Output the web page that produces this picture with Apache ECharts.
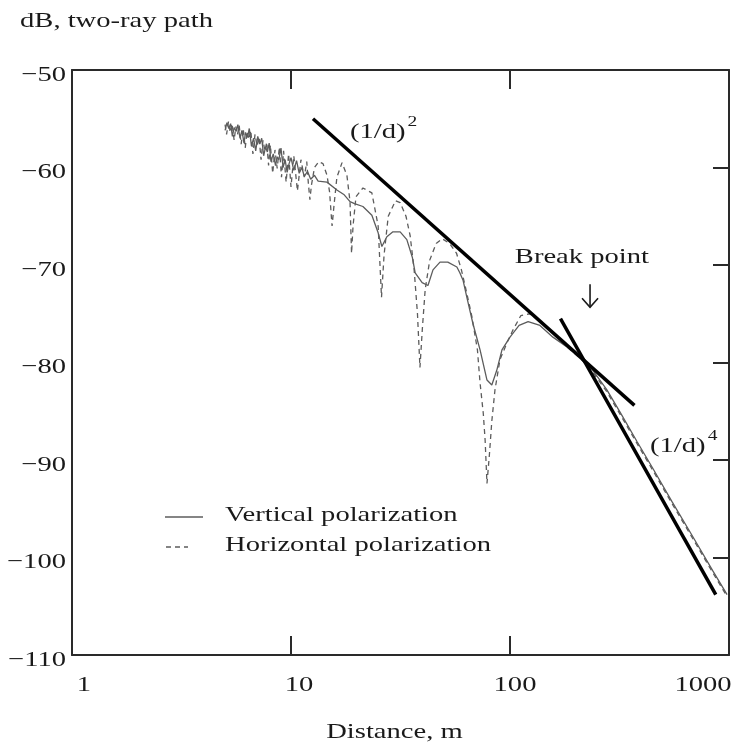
<!DOCTYPE html>
<html>
<head>
<meta charset="utf-8">
<script src="https://cdn.jsdelivr.net/npm/echarts@6/dist/echarts.min.js"></script>
<style>
  html, body { margin: 0; padding: 0; background: #fff; }
  #chart { width: 740px; height: 748px; }
</style>
</head>
<body>
<div id="chart"></div>
<script>
// Two-ray path loss versus distance (log scale), with 1/d^2 and 1/d^4 asymptotes.

const xTicks = [1, 10, 100, 1000];
const yTicks = [-110, -100, -90, -80, -70, -60, -50];

// [distance m, dB]
const vertical = [
  [5.0,-56.2],[5.1,-55.4],[5.2,-56.0],[5.3,-55.5],[5.4,-56.8],[5.5,-55.9],[5.62,-56.3],[5.72,-55.6],
  [5.85,-57.0],[5.97,-56.2],[6.1,-57.5],[6.2,-56.4],[6.33,-56.9],[6.45,-56.0],[6.6,-57.8],[6.75,-57.0],
  [6.9,-58.3],[7.05,-56.8],[7.2,-57.6],[7.35,-57.0],[7.5,-58.8],[7.65,-57.9],[7.8,-58.4],[7.95,-57.5],
  [8.1,-59.4],[8.3,-58.6],[8.5,-59.8],[8.65,-58.9],[8.8,-59.2],[9.0,-58.0],[9.2,-60.0],[9.4,-59.2],
  [9.6,-60.5],[9.8,-59.6],[10.0,-59.0],[10.3,-60.3],[10.6,-59.3],[10.9,-60.6],[11.2,-60.0],[11.5,-60.9],
  [11.9,-60.4],[12.3,-61.2],[12.8,-60.8],[13.3,-61.4],[14.6,-61.5],[16.2,-62.3],[17.5,-62.8],[18.6,-63.5],
  [19.5,-63.7],[21.3,-64.0],[23.4,-64.9],[25.0,-66.7],[26.0,-68.1],[27.4,-67.1],[29.2,-66.6],[31.5,-66.6],
  [33.8,-67.4],[35.8,-69.2],[36.9,-70.8],[39.7,-71.8],[42.2,-72.1],[44.5,-70.5],[47.9,-69.7],[52.0,-69.7],
  [57.2,-70.2],[59.0,-70.8],[61.1,-71.6],[63.5,-73.3],[67.7,-76.0],[73.0,-78.7],[78.5,-81.8],[82.6,-82.3],
  [87.0,-80.8],[91.9,-78.7],[100,-77.4],[110,-76.2],[121,-75.8],[137,-76.2],[157,-77.4],[182,-78.4],
  [210,-79.4],[239,-80.8],[277,-82.8],[320,-85.2],[380,-88.1],[450,-90.9],[550,-94.3],[685,-97.9],
  [845,-101.4],[980,-103.8]
];

const horizontal = [
  [5.0,-55.6],[5.08,-56.6],[5.18,-55.3],[5.28,-56.4],[5.38,-55.5],[5.5,-57.2],[5.6,-55.8],[5.7,-56.6],
  [5.8,-55.7],[5.92,-57.6],[6.05,-56.0],[6.18,-58.0],[6.3,-56.3],[6.42,-57.1],[6.55,-56.2],[6.7,-58.6],
  [6.85,-56.6],[7.0,-57.8],[7.15,-56.9],[7.3,-59.2],[7.45,-57.2],[7.6,-58.3],[7.75,-57.4],[7.9,-59.8],
  [8.05,-57.7],[8.25,-60.6],[8.45,-58.2],[8.65,-60.1],[8.85,-57.9],[9.05,-61.0],[9.25,-58.3],[9.5,-61.5],
  [9.75,-58.6],[10.0,-62.0],[10.3,-58.8],[10.7,-62.4],[11.1,-59.2],[11.5,-61.0],[11.8,-59.4],[12.0,-61.6],
  [12.2,-63.3],[12.4,-61.8],[12.8,-60.0],[13.4,-59.4],[14.0,-59.6],[14.6,-60.8],[15.0,-62.5],[15.4,-66.0],
  [15.7,-64.0],[16.2,-61.0],[17.1,-59.5],[18.0,-60.8],[18.6,-63.5],[18.9,-68.8],[19.2,-66.0],[19.8,-63.0],
  [21.3,-62.1],[23.4,-62.6],[25.0,-66.0],[25.9,-73.3],[26.6,-69.0],[27.8,-65.0],[30.0,-63.4],[31.5,-63.6],
  [33.5,-65.0],[35.0,-67.0],[36.5,-70.5],[37.8,-75.0],[38.8,-80.5],[39.8,-76.5],[41.0,-72.5],[43.0,-69.5],
  [46.0,-67.8],[49.0,-67.3],[53.0,-67.8],[57.0,-68.8],[60.0,-70.5],[63.5,-72.9],[67.0,-75.3],[71.0,-78.7],
  [73.0,-82.1],[75.5,-85.2],[77.0,-88.0],[78.5,-92.4],[80.5,-89.5],[82.6,-86.0],[85.4,-82.8],[90.0,-79.7],
  [96.8,-78.0],[103,-76.7],[112,-75.2],[123,-75.0],[137,-75.7],[157,-76.9],[182,-78.4],[210,-79.6],
  [239,-81.0],[277,-83.0],[320,-85.4],[380,-88.3],[450,-91.1],[550,-94.5],[685,-98.1],[845,-101.6],
  [980,-104.0]
];

// Asymptotes: 20 dB/decade and 40 dB/decade
const slope2 = [[12.6,-55.0],[370,-84.4]];
const slope4 = [[170,-75.5],[870,-103.8]];

// Annotations anchored in data space: [distance, dB, text, superscript]
const notes = [
  [18.6, -56.4, '(1/d)', '2'],
  [436, -88.6, '(1/d)', '4']
];
const breakLabel = [213, -69.2, 'Break point'];
const breakArrow = [232, -73.2];

const SERIF = '"Liberation Serif", "Times New Roman", serif';
const INK = '#1a1a1a';
const SX = 1.3;          // horizontal stretch of the lettering
const FS = 22;           // font size in px

const chart = echarts.init(document.getElementById('chart'), null, { renderer: 'canvas' });

const axisLineStyle = { color: '#2a2a2a', width: 2 };

chart.setOption({
  animation: false,
  backgroundColor: '#fff',
  grid: { left: 72, right: 11, top: 70, bottom: 93 },
  xAxis: [
    {
      type: 'log', logBase: 10, min: 1, max: 1000, position: 'bottom',
      axisLine: { lineStyle: axisLineStyle },
      axisTick: { inside: true, length: 19, lineStyle: axisLineStyle },
      minorTick: { show: false }, splitLine: { show: false },
      axisLabel: { show: false }
    },
    {
      type: 'log', logBase: 10, min: 1, max: 1000, position: 'top',
      axisLine: { lineStyle: axisLineStyle },
      axisTick: { inside: true, length: 19, lineStyle: axisLineStyle },
      minorTick: { show: false }, splitLine: { show: false },
      axisLabel: { show: false }
    }
  ],
  yAxis: [
    {
      type: 'value', min: -110, max: -50, interval: 10, position: 'left',
      axisLine: { show: true, lineStyle: axisLineStyle },
      axisTick: { show: false }, splitLine: { show: false },
      axisLabel: { show: false }
    },
    {
      type: 'value', min: -110, max: -50, interval: 10, position: 'right',
      axisLine: { show: true, lineStyle: axisLineStyle },
      axisTick: { show: true, inside: true, length: 16, lineStyle: axisLineStyle },
      splitLine: { show: false },
      axisLabel: { show: false }
    }
  ],
  series: [
    {
      name: 'Vertical polarization', type: 'line', data: vertical,
      symbol: 'none', lineStyle: { color: '#5c5c5c', width: 1.3 }
    },
    {
      name: 'Horizontal polarization', type: 'line', data: horizontal,
      symbol: 'none', lineStyle: { color: '#5c5c5c', width: 1.3, type: [5, 4] }
    },
    {
      name: '(1/d)^2', type: 'line', data: slope2, symbol: 'none',
      lineStyle: { color: '#000', width: 3.5 }
    },
    {
      name: '(1/d)^4', type: 'line', data: slope4, symbol: 'none',
      lineStyle: { color: '#000', width: 3.5 }
    }
  ]
});

// ---- lettering: stretched serif text placed through the axis scales ----
const toPx = (x, y) => chart.convertToPixel({ gridIndex: 0 }, [x, y]);
const measure = (() => {
  const c = document.createElement('canvas').getContext('2d');
  return (t, size) => { c.font = size + 'px ' + SERIF; return c.measureText(t).width * SX; };
})();

function label(x, y, text, align, size) {
  return {
    type: 'text', x: x, y: y, scaleX: SX, silent: true,
    style: {
      text: text, font: (size || FS) + 'px ' + SERIF, fill: INK,
      align: align || 'left', verticalAlign: 'middle'
    }
  };
}

const g = [];

// y tick labels
yTicks.forEach(v => {
  const p = toPx(1, v);
  g.push(label(p[0] - 6, p[1] + 5, (v < 0 ? '\u2212' : '') + Math.abs(v), 'right'));
});

// x tick labels (shifted slightly as in the printed figure)
const xLabelShift = { 1: 12, 10: 8, 100: 5, 1000: -26 };
xTicks.forEach(v => {
  const p = toPx(v, -110);
  g.push(label(p[0] + xLabelShift[v], p[1] + 30, String(v), 'center'));
});

// axis titles
const bl = toPx(1, -110), br = toPx(1000, -110);
g.push(label((bl[0] + br[0]) / 2 - 6, bl[1] + 77, 'Distance, m', 'center'));
g.push(label(20, 21, 'dB, two-ray path', 'left'));

// slope annotations with superscripts
notes.forEach(n => {
  const p = toPx(n[0], n[1]);
  g.push(label(p[0], p[1], n[2], 'left'));
  g.push(label(p[0] + measure(n[2], FS) + 2, p[1] - 10, n[3], 'left', 15));
});

// break point label and arrow
const bp = toPx(breakLabel[0], breakLabel[1]);
g.push(label(bp[0], bp[1], breakLabel[2], 'center'));
const ap = toPx(breakArrow[0], breakArrow[1]);
g.push({
  type: 'polyline', silent: true,
  shape: { points: [[ap[0], ap[1] - 12], [ap[0], ap[1] + 11]] },
  style: { stroke: INK, lineWidth: 1.6, fill: null }
});
g.push({
  type: 'polyline', silent: true,
  shape: { points: [[ap[0] - 8, ap[1] + 2], [ap[0], ap[1] + 11], [ap[0] + 8, ap[1] + 2]] },
  style: { stroke: INK, lineWidth: 1.6, fill: null }
});

// legend
const leg = [
  { text: 'Vertical polarization', y: 515, x0: 165, x1: 203, dash: null },
  { text: 'Horizontal polarization', y: 545, x0: 166, x1: 188, dash: [5, 4] }
];
leg.forEach(l => {
  g.push({
    type: 'line', silent: true,
    shape: { x1: l.x0, y1: l.y + 2, x2: l.x1, y2: l.y + 2 },
    style: { stroke: '#5c5c5c', lineWidth: 1.3, lineDash: l.dash }
  });
  g.push(label(225, l.y, l.text, 'left'));
});

chart.setOption({ graphic: g });
</script>
</body>
</html>
